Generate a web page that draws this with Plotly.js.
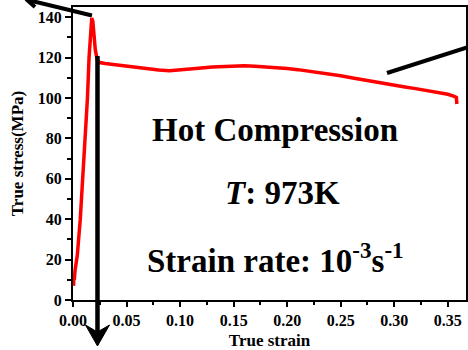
<!DOCTYPE html>
<html>
<head>
<meta charset="utf-8">
<script src="https://cdn.plot.ly/plotly-3.0.1.min.js"></script>
<style>html,body{margin:0;padding:0;background:#fff;}#chart{width:468px;height:350px;}</style>
</head>
<body>
<div id="chart"></div>
<script>
// True strain / true stress (MPa)
const strain = [0.0005, 0.001, 0.0012, 0.002, 0.004, 0.0068, 0.0093, 0.0115, 0.0135, 0.0150, 0.0163, 0.0175, 0.0185, 0.0195, 0.0208, 0.0225, 0.025, 0.03, 0.04, 0.05, 0.06, 0.07, 0.08, 0.09, 0.10, 0.11, 0.12, 0.13, 0.14, 0.15, 0.16, 0.17, 0.18, 0.19, 0.20, 0.21, 0.22, 0.23, 0.24, 0.25, 0.26, 0.27, 0.28, 0.29, 0.30, 0.31, 0.32, 0.33, 0.34, 0.35, 0.356, 0.358, 0.3585];
const stress = [7, 13, 10, 15, 22, 40, 60, 80, 100, 120, 132, 139.5, 138, 132, 124, 119, 117.5, 117, 116.3, 116, 115.2, 114.5, 113.8, 113.5, 113.8, 114.2, 114.8, 115.3, 115.6, 115.8, 115.9, 115.7, 115.4, 115, 114.6, 114, 113.3, 112.6, 111.9, 111, 110, 109, 108, 107, 106.2, 105.4, 104.6, 103.7, 102.8, 101.8, 100.8, 100.3, 97];

const xTitle = 'True strain';
const yTitle = 'True stress(MPa)';
const noteLines = ['Hot Compression', '<i>T</i>: 973K', 'Strain rate: 10<sup>-3</sup>s<sup>-1</sup>'];

const W = 468, H = 350, ML = 73, MR = 2, MT = 7, MB = 50;
const PW = W - ML - MR, PH = H - MT - MB;
const px = x => (x - ML) / PW;
const py = y => (H - MB - y) / PH;
const pathPx = pts => pts.map((p, i) => (i ? 'L ' : 'M ') + px(p[0]).toFixed(4) + ',' + py(p[1]).toFixed(4)).join(' ');

const serif = 'Liberation Serif, Times New Roman, serif';

const trace = {
  x: strain, y: stress, type: 'scatter', mode: 'lines',
  line: {color: '#ff0000', width: 3.5}, hoverinfo: 'skip'
};

const shapes = [
  {type: 'path', xref: 'paper', yref: 'paper', path: pathPx([[28, 0], [92, 15.5]]), line: {color: '#000', width: 4}},
  {type: 'path', xref: 'paper', yref: 'paper', path: pathPx([[26, -1], [35, 7]]), line: {color: '#000', width: 4}},
  {type: 'path', xref: 'paper', yref: 'paper', path: pathPx([[387, 73], [470, 46.5]]), line: {color: '#000', width: 4}},
  {type: 'path', xref: 'paper', yref: 'paper', path: pathPx([[97.5, 56], [97.5, 334]]), line: {color: '#000', width: 4.5}},
  {type: 'path', xref: 'paper', yref: 'paper', path: pathPx([[97.5, 346], [85.5, 325], [97.5, 332], [109.5, 325]]) + ' Z', line: {color: '#000', width: 1}, fillcolor: '#000'}
];

const noteX = [150, 223, 145];
const noteY = [129.7, 192.5, 257.5];
const annotations = noteLines.map((t, i) => ({
  xref: 'paper', yref: 'paper', x: px(noteX[i]), y: py(noteY[i]),
  xanchor: 'left', yanchor: 'middle', showarrow: false,
  text: '<b>' + t + '</b>', font: {family: serif, size: 33, color: '#000'}
}));

const layout = {
  width: W, height: H,
  margin: {l: ML, r: MR, t: MT, b: MB},
  paper_bgcolor: '#fff', plot_bgcolor: '#fff',
  showlegend: false,
  xaxis: {
    range: [0, 0.367], dtick: 0.05, tick0: 0, tickformat: '.2f',
    ticks: 'outside', ticklen: 5, tickwidth: 2, tickcolor: '#000',
    minor: {dtick: 0.025, ticks: 'outside', ticklen: 3, tickwidth: 2, tickcolor: '#000'},
    showgrid: false, zeroline: false,
    showline: true, linewidth: 2, linecolor: '#000', mirror: true,
    tickfont: {family: serif, size: 16, color: '#000', weight: 'bold'},
    title: {text: '<b>' + xTitle + '</b>', font: {family: serif, size: 17, color: '#000'}, standoff: 6}
  },
  yaxis: {
    range: [0, 145], dtick: 20, tick0: 0,
    ticks: 'outside', ticklen: 6, tickwidth: 2, tickcolor: '#000',
    minor: {dtick: 10, ticks: 'outside', ticklen: 4, tickwidth: 2, tickcolor: '#000'},
    showgrid: false, zeroline: false,
    showline: true, linewidth: 2, linecolor: '#000', mirror: true,
    tickfont: {family: serif, size: 16, color: '#000', weight: 'bold'},
    title: {text: '<b>' + yTitle + '</b>', font: {family: serif, size: 17, color: '#000'}, standoff: 10}
  },
  shapes: shapes,
  annotations: annotations
};

Plotly.newPlot('chart', [trace], layout, {staticPlot: true, displayModeBar: false});
</script>
</body>
</html>
